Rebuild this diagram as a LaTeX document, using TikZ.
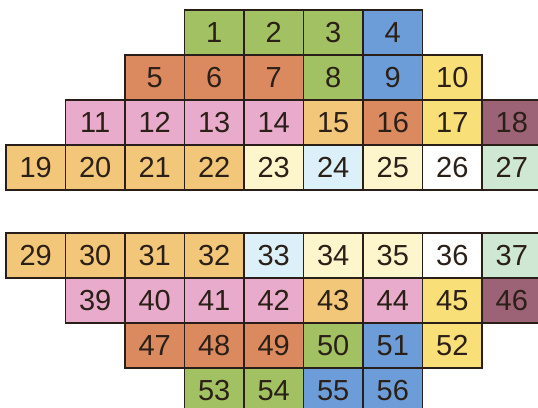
\documentclass[tikz,border=0pt]{standalone}
\usepackage{fontspec}
\setmainfont{Liberation Sans}

\definecolor{cellline}{HTML}{2A1F18}
\definecolor{numtext}{HTML}{2B2018}
\definecolor{sgreen}{HTML}{A2C162}
\definecolor{sbrown}{HTML}{DB8A5F}
\definecolor{sblue}{HTML}{6C9DD9}
\definecolor{syellow}{HTML}{F9DF78}
\definecolor{spink}{HTML}{E9ABCC}
\definecolor{sorange}{HTML}{F3C77A}
\definecolor{smauve}{HTML}{9C6377}
\definecolor{scream}{HTML}{FDF6CD}
\definecolor{slblue}{HTML}{DCF0F9}
\definecolor{slgreen}{HTML}{CFE8D3}

\begin{document}
\begin{tikzpicture}[x=1pt, y=-1pt,
    cell/.style={draw=cellline, line width=1.7pt, minimum width=59.5pt,
      minimum height=45pt, inner sep=0pt, text=numtext,
      font=\fontsize{29}{29}\selectfont}]
        \useasboundingbox (0,0) rectangle (538,407);
        \clip (0,0) rectangle (538,407);

        % upper half
        \foreach \n/\k/\c in {1/3/sgreen, 2/4/sgreen, 3/5/sgreen, 4/6/sblue}
            \node[cell, fill=\c] (c\n) at ({35.75+59.5*\k}, 32.5) {\n};
        \foreach \n/\k/\c in {5/2/sbrown, 6/3/sbrown, 7/4/sbrown, 8/5/sgreen, 9/6/sblue, 10/7/syellow}
            \node[cell, fill=\c] (c\n) at ({35.75+59.5*\k}, 77.5) {\n};
        \foreach \n/\k/\c in {11/1/spink, 12/2/spink, 13/3/spink, 14/4/spink, 15/5/sorange, 16/6/sbrown, 17/7/syellow, 18/8/smauve}
            \node[cell, fill=\c] (c\n) at ({35.75+59.5*\k}, 122.5) {\n};
        \foreach \n/\k/\c in {19/0/sorange, 20/1/sorange, 21/2/sorange, 22/3/sorange, 23/4/scream, 24/5/slblue, 25/6/scream, 26/7/white, 27/8/slgreen}
            \node[cell, fill=\c] (c\n) at ({35.75+59.5*\k}, 167.5) {\n};

        % lower half
        \foreach \n/\k/\c in {29/0/sorange, 30/1/sorange, 31/2/sorange, 32/3/sorange, 33/4/slblue, 34/5/scream, 35/6/scream, 36/7/white, 37/8/slgreen}
            \node[cell, fill=\c] (c\n) at ({35.75+59.5*\k}, 255.5) {\n};
        \foreach \n/\k/\c in {39/1/spink, 40/2/spink, 41/3/spink, 42/4/spink, 43/5/sorange, 44/6/spink, 45/7/syellow, 46/8/smauve}
            \node[cell, fill=\c] (c\n) at ({35.75+59.5*\k}, 300.5) {\n};
        \foreach \n/\k/\c in {47/2/sbrown, 48/3/sbrown, 49/4/sbrown, 50/5/sgreen, 51/6/sblue, 52/7/syellow}
            \node[cell, fill=\c] (c\n) at ({35.75+59.5*\k}, 345.5) {\n};
        \foreach \n/\k/\c in {53/3/sgreen, 54/4/sgreen, 55/5/sblue, 56/6/sblue}
            \node[cell, fill=\c] (c\n) at ({35.75+59.5*\k}, 390.5) {\n};

    \end{tikzpicture}
\end{document}
